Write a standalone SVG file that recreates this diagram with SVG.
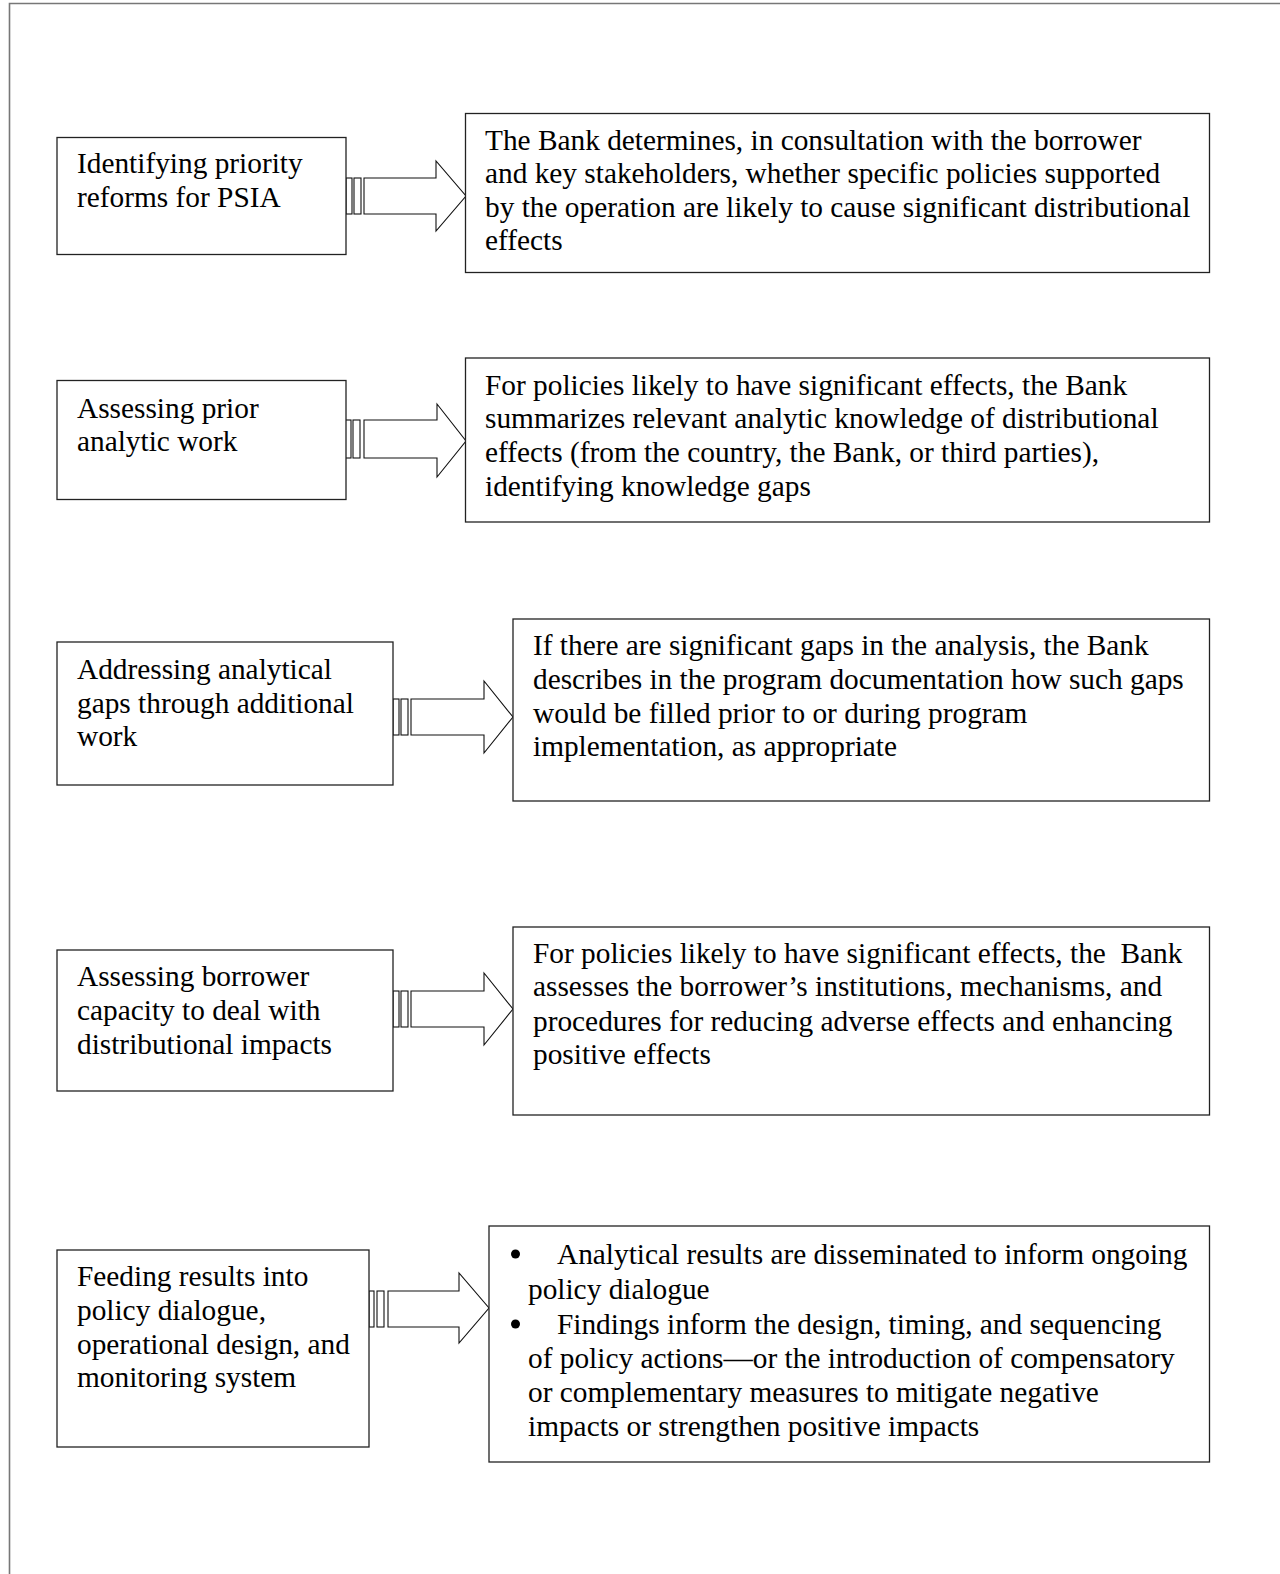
<svg xmlns="http://www.w3.org/2000/svg" width="1280" height="1574" viewBox="0 0 1280 1574">
<style>
text{font-family:"Liberation Serif","Times New Roman",serif;font-size:29.33px;fill:#000;white-space:pre}
.box{fill:#fff;stroke:#222;stroke-width:1.3}
.arr{fill:#fff;stroke:#111;stroke-width:1.1;stroke-linejoin:miter}
</style>
<rect width="1280" height="1574" fill="#fff"/>
<path d="M1280,3.5 H9.5 V1574" fill="none" stroke="#777" stroke-width="1.6"/>

<g id="connectors">
  <g id="arrow1">
    <rect class="arr" x="346" y="178" width="6" height="36"/>
    <rect class="arr" x="354" y="178" width="7" height="36"/>
    <path class="arr" d="M364,178 H436 V161 L466,196 L436,231 V214 H364 Z"/>
  </g>
  <g id="arrow2">
    <rect class="arr" x="345" y="420" width="6" height="38"/>
    <rect class="arr" x="353" y="420" width="7" height="38"/>
    <path class="arr" d="M364,420 H437 V404 L466,441 L437,477 V458 H364 Z"/>
  </g>
  <g id="arrow3">
    <rect class="arr" x="393" y="699" width="6" height="36"/>
    <rect class="arr" x="401" y="699" width="7" height="36"/>
    <path class="arr" d="M411,699 H484 V681 L513,717 L484,753 V735 H411 Z"/>
  </g>
  <g id="arrow4">
    <rect class="arr" x="393" y="991" width="6" height="36"/>
    <rect class="arr" x="401" y="991" width="7" height="36"/>
    <path class="arr" d="M411,991 H484 V973 L513,1009 L484,1045 V1027 H411 Z"/>
  </g>
  <g id="arrow5">
    <rect class="arr" x="369" y="1291" width="5" height="36"/>
    <rect class="arr" x="377" y="1291" width="7" height="36"/>
    <path class="arr" d="M388,1291 H459 V1273 L489,1308 L459,1343 V1327 H388 Z"/>
  </g>
</g>

<g id="step1">
  <rect class="box" x="57" y="137.5" width="289" height="117"/>
  <text x="77" y="173">Identifying priority</text>
  <text x="77" y="207">reforms for PSIA</text>
</g>
<g id="desc1">
  <rect class="box" x="465.5" y="113.5" width="744" height="159"/>
  <text x="485" y="150">The Bank determines, in consultation with the borrower</text>
  <text x="485" y="183">and key stakeholders, whether specific policies supported</text>
  <text x="485" y="217">by the operation are likely to cause significant distributional</text>
  <text x="485" y="250">effects</text>
</g>

<g id="step2">
  <rect class="box" x="57" y="380.5" width="289" height="119"/>
  <text x="77" y="418">Assessing prior</text>
  <text x="77" y="451">analytic work</text>
</g>
<g id="desc2">
  <rect class="box" x="465.5" y="358" width="744" height="164"/>
  <text x="485" y="395">For policies likely to have significant effects, the Bank</text>
  <text x="485" y="428">summarizes relevant analytic knowledge of distributional</text>
  <text x="485" y="462">effects (from the country, the Bank, or third parties),</text>
  <text x="485" y="496">identifying knowledge gaps</text>
</g>

<g id="step3">
  <rect class="box" x="57" y="642" width="336" height="143"/>
  <text x="77" y="679">Addressing analytical</text>
  <text x="77" y="713">gaps through additional</text>
  <text x="77" y="746">work</text>
</g>
<g id="desc3">
  <rect class="box" x="513" y="619" width="696.5" height="182"/>
  <text x="533" y="655">If there are significant gaps in the analysis, the Bank</text>
  <text x="533" y="689">describes in the program documentation how such gaps</text>
  <text x="533" y="723">would be filled prior to or during program</text>
  <text x="533" y="756">implementation, as appropriate</text>
</g>

<g id="step4">
  <rect class="box" x="57" y="950" width="336" height="141"/>
  <text x="77" y="986">Assessing borrower</text>
  <text x="77" y="1020">capacity to deal with</text>
  <text x="77" y="1054">distributional impacts</text>
</g>
<g id="desc4">
  <rect class="box" x="513" y="927" width="696.5" height="188"/>
  <text x="533" y="963">For policies likely to have significant effects, the  Bank</text>
  <text x="533" y="996">assesses the borrower’s institutions, mechanisms, and</text>
  <text x="533" y="1031">procedures for reducing adverse effects and enhancing</text>
  <text x="533" y="1064">positive effects</text>
</g>

<g id="step5">
  <rect class="box" x="57" y="1250" width="312" height="197"/>
  <text x="77" y="1286">Feeding results into</text>
  <text x="77" y="1320">policy dialogue,</text>
  <text x="77" y="1354">operational design, and</text>
  <text x="77" y="1387">monitoring system</text>
</g>
<g id="desc5">
  <rect class="box" x="489" y="1226" width="720.5" height="236"/>
  <circle cx="515.5" cy="1254" r="4.5" fill="#000"/>
  <text x="557" y="1264">Analytical results are disseminated to inform ongoing</text>
  <text x="528" y="1299">policy dialogue</text>
  <circle cx="515.5" cy="1324" r="4.5" fill="#000"/>
  <text x="557" y="1334">Findings inform the design, timing, and sequencing</text>
  <text x="528" y="1368">of policy actions—or the introduction of compensatory</text>
  <text x="528" y="1402">or complementary measures to mitigate negative</text>
  <text x="528" y="1436">impacts or strengthen positive impacts</text>
</g>
</svg>
